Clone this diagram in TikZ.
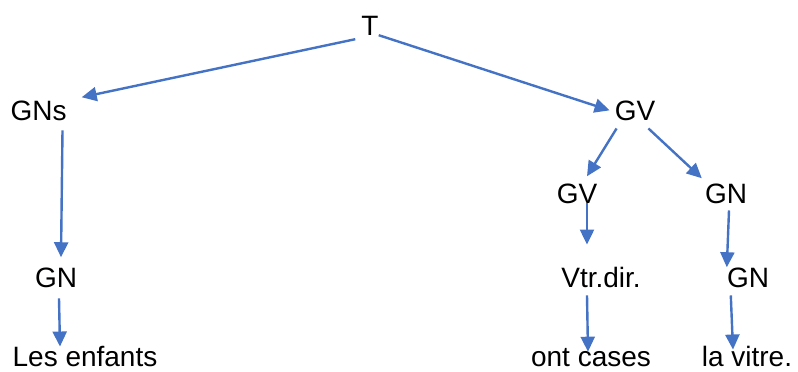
\documentclass[tikz,border=0pt]{standalone}
\usepackage{fontspec}
\setmainfont{Liberation Sans}
\usetikzlibrary{arrows.meta}
\definecolor{treeblue}{HTML}{4472C4}
\def\rowA{-35}
\def\rowB{-120}
\def\rowC{-203}
\def\rowD{-287}
\def\rowE{-366}

\begin{document}
\begin{tikzpicture}[
    x=1pt, y=1pt,
    word/.style={
      inner sep=0pt, anchor=base, font=\fontsize{28}{34}\selectfont
    },
    arrowtip/.style={
      draw=treeblue, line width=2.4pt,
      -{Triangle[length=15pt,width=14pt]}
    }
  ]
    \useasboundingbox (0,0) rectangle (798,-372);

    % labels of the tree
    \node[word] (t)   at (370,\rowA) {T};
    \node[word] (gns) at (38.5,\rowB) {GNs};
    \node[word] (gvA) at (635,\rowB) {GV};
    \node[word] (gvB) at (577,\rowC) {GV};
    \node[word] (gnB) at (726,\rowC) {GN};
    \node[word] (gnL) at (56,\rowD) {GN};
    \node[word] (vtr) at (601,\rowD) {Vtr.dir.};
    \node[word] (gnC) at (748,\rowD) {GN};
    \node[word] (enf) at (85,\rowE) {Les enfants};
    \node[word] (ont) at (591,\rowE) {ont cases};
    \node[word] (vit) at (747,\rowE) {la vitre.};

    % branches
    \draw[arrowtip] ([shift={(-6,-4)}]t.south west) -- ([shift={(15,3)}]gns.north east);
    \draw[arrowtip] (t.south east) -- ([xshift=-5]gvA.west);
    \draw[arrowtip] ([shift={(24,-10)}]gns.south) -- ([shift={(5,10)}]gnL.north);
    \draw[arrowtip] ([shift={(3,-11)}]gnL.south) -- ([shift={(-25,-1)}]enf.north);
    \draw[arrowtip] ([shift={(2,-8)}]gvA.south west) -- ([shift={(10,7)}]gvB.north);
    \draw[arrowtip] ([shift={(-7,-8)}]gvA.south east) -- ([shift={(-3,5)}]gnB.north west);
    \draw[arrowtip] ([xshift=10]gvB.south) -- ([shift={(-14,22)}]vtr.north);
    \draw[arrowtip] ([shift={(-14,-8)}]vtr.south) -- ([shift={(-3,-4)}]ont.north);
    \draw[arrowtip] ([shift={(3,-7)}]gnB.south) -- (gnC.north west);
    \draw[arrowtip] ([shift={(4,-8)}]gnC.south west) -- ([shift={(-14,-4)}]vit.north);
  \end{tikzpicture}
\end{document}
